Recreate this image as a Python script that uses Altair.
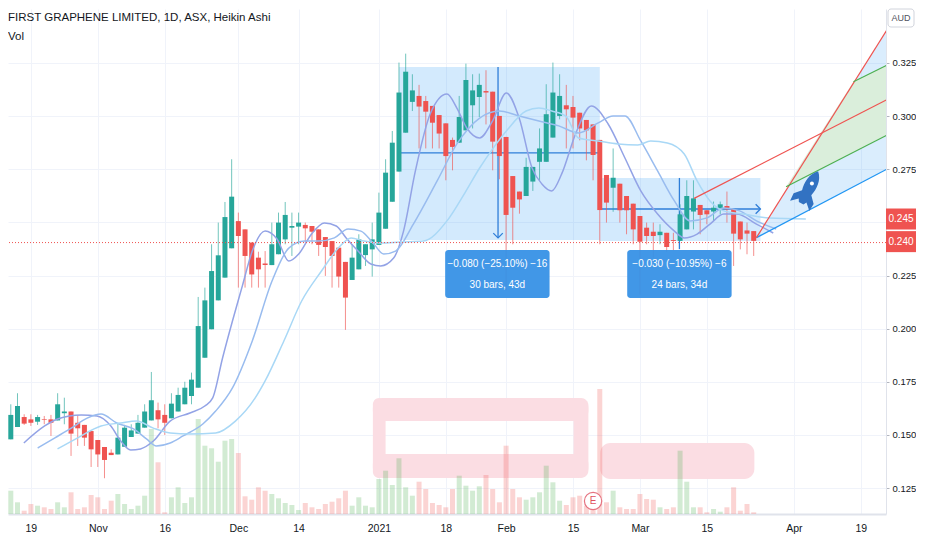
import altair as alt
import pandas as pd

FONT = "Liberation Sans Narrow, Liberation Sans, Arial, sans-serif"
W, H = 878, 505
X0, X1 = 1.329, 131.02
Y0, Y1 = 0.11277, 0.35041
VOL_K = 0.004706
GREEN = "#26a69a"
RED = "#ef5350"

title_text = "FIRST GRAPHENE LIMITED, 1D, ASX, Heikin Ashi"
sub_text = "Vol"

# Heikin Ashi candles (bar index 0 = 13 Oct 2020)
opens = [.1463, .1479, .1537, .1584, .1573, .1562, .1573, .1573, .1568, .1602,
         .1610, .1557, .1547, .1518, .1476, .1443, .1416, .1408, .1444, .1490,
         .1506, .1534, .1568, .1616, .1594, .1578, .1610, .1644, .1683, .1722,
         .1863, .1997, .2133, .2240, .2378, .2506, .2467, .2405, .2334, .2306,
         .2299, .2350, .2420, .2475, .2480, .2488, .2483, .2467, .2431, .2412,
         .2381, .2314, .2229, .2279, .2346, .2373, .2394, .2470, .2597, .2739,
         .2922, .3067, .3095, .3071, .3048, .3005, .2966, .2888, .2875, .2933,
         .3051, .3090, .3118, .3115, .3001, .2902, .2718, .2645, .2624, .2692,
         .2785, .2785, .2899, .3001, .3051, .3043, .3016, .2982, .2961, .2888,
         .2723, .2663, .2682, .2624, .2588, .2530, .2475, .2456, .2440, .2451,
         .2417, .2413, .2467, .2551, .2582, .2557, .2551, .2562, .2577, .2562,
         .2504, .2462, .2459]
highs = [.1510, .1644, .1696, .1597, .1597, .1594, .1589, .1594, .1696, .1675,
         .1610, .1594, .1547, .1518, .1476, .1443, .1432, .1553, .1547, .1550,
         .1594, .1644, .1796, .1652, .1644, .1696, .1722, .1750, .1793, .2149,
         .2193, .2397, .2499, .2596, .2797, .2546, .2467, .2405, .2362, .2365,
         .2499, .2546, .2596, .2546, .2546, .2499, .2483, .2467, .2431, .2412,
         .2381, .2314, .2397, .2444, .2397, .2499, .2640, .2797, .2930, .3252,
         .3294, .3197, .3147, .3095, .3048, .3005, .2966, .2899, .3095, .3247,
         .3197, .3200, .3216, .3115, .3001, .2902, .2718, .2645, .2804, .2761,
         .2942, .3150, .3252, .3197, .3147, .3095, .3016, .2982, .2961, .2888,
         .2723, .2848, .2682, .2624, .2588, .2530, .2499, .2499, .2491, .2451,
         .2451, .2585, .2698, .2698, .2582, .2557, .2598, .2598, .2645, .2562,
         .2504, .2499, .2459]
lows = [.1455, .1479, .1537, .1547, .1542, .1547, .1550, .1495, .1568, .1550,
        .1401, .1448, .1448, .1349, .1349, .1296, .1405, .1408, .1444, .1490,
        .1506, .1534, .1568, .1531, .1500, .1578, .1610, .1644, .1644, .1722,
        .1863, .1997, .2133, .2240, .2378, .2193, .2193, .2193, .2193, .2193,
        .2299, .2350, .2397, .2342, .2397, .2405, .2397, .2342, .2248, .2193,
        .2193, .1994, .2229, .2279, .2295, .2245, .2394, .2470, .2597, .2739,
        .2922, .3024, .2848, .2848, .2848, .2848, .2698, .2745, .2875, .2933,
        .2942, .2996, .2961, .2745, .2703, .2180, .2397, .2541, .2624, .2648,
        .2695, .2785, .2899, .2985, .2848, .2848, .2886, .2792, .2698, .2397,
        .2499, .2550, .2499, .2444, .2397, .2160, .2397, .2334, .2397, .2362,
        .2369, .2413, .2467, .2467, .2444, .2491, .2507, .2538, .2499, .2295,
        .2373, .2350, .2342]
closes = [.1503, .1594, .1636, .1553, .1557, .1584, .1570, .1557, .1644, .1610,
          .1506, .1531, .1487, .1432, .1408, .1382, .1405, .1487, .1534, .1521,
          .1557, .1610, .1663, .1573, .1557, .1647, .1688, .1722, .1760, .2012,
          .2133, .2271, .2345, .2525, .2621, .2436, .2342, .2255, .2279, .2299,
          .2397, .2499, .2535, .2483, .2499, .2472, .2456, .2394, .2384, .2342,
          .2245, .2146, .2334, .2420, .2397, .2420, .2546, .2734, .2875, .3111,
          .3209, .3121, .3045, .3021, .2969, .2918, .2812, .2855, .2996, .3170,
          .3121, .3147, .3111, .2880, .2812, .2535, .2569, .2608, .2761, .2761,
          .2848, .3009, .3111, .3095, .3032, .2993, .2942, .2933, .2817, .2558,
          .2593, .2710, .2557, .2557, .2467, .2409, .2436, .2436, .2456, .2384,
          .2413, .2538, .2624, .2613, .2535, .2538, .2569, .2585, .2562, .2447,
          .2420, .2447, .2413]
volumes = [1.67, 2.33, 1.17, 0.33, 1.0, 0.83, 0.67, 0.5, 1.17, 0.67,
           2.17, 0.5, 0.67, 1.9, 1.67, 0.5, 1.33, 2.0, 1.0, 0.5,
           0.83, 1.83, 8.5, 5.17, 0.17, 1.67, 2.67, 1.1, 1.67, 9.5,
           6.83, 6.57, 5.23, 7.33, 7.5, 6.1, 1.77, 1.43, 2.67, 2.33,
           2.0, 1.57, 1.1, 0.9, 0.4, 1.1, 0.67, 0.5, 1.0, 1.23,
           1.57, 2.33, 0.83, 1.67, 0.83, 0.67, 3.5, 4.33, 2.9, 5.57,
           2.67, 1.83, 3.23, 2.5, 1.1, 0.9, 0.67, 2.5, 3.83, 2.83,
           2.33, 2.77, 3.9, 2.5, 1.17, 6.83, 2.5, 1.67, 1.43, 1.67,
           2.17, 4.83, 3.17, 1.33, 0.9, 1.67, 1.83, 0.83, 1.5, 12.5,
           1.17, 2.33, 0.67, 0.5, 0.5, 2.0, 1.5, 1.43, 0.67, 0.5,
           0.67, 6.33, 3.23, 0.67, 0.67, 0.17, 0.5, 0.23, 0.67, 2.67,
           0.33, 1.0, 0.17]

tick_idx = [4, 14, 24, 35, 44, 56, 66, 75, 85, 95, 105, 118, 128]
tick_lbl = ["19", "Nov", "16", "Dec", "14", "2021", "18", "Feb", "15", "Mar", "15", "Apr", "19"]
price_ticks = [0.125, 0.15, 0.175, 0.2, 0.225, 0.25, 0.275, 0.3, 0.325]

ma_fast_i = [2.95, 6.06, 7.98, 11.52, 13.88, 15.95, 17.43, 18.91, 20.38, 22.3, 24.8, 27.77, 29.99, 31.17,
             32.64, 34.12, 35.6, 37.08, 39.0, 40.77, 42.54, 44.02, 45.94, 47.86, 49.63, 51.11, 52.88, 54.8,
             56.28, 58.2, 59.68, 61.45, 63.66, 66.17, 67.65, 69.13, 71.05, 72.97, 75.04, 76.96, 78.88, 80.35,
             81.83, 83.31, 85.38, 87.74, 90.25, 92.76, 95.13, 97.64, 100.15, 101.62, 103.55, 105.47, 107.53,
             109.45, 112.41, 114.92]
ma_fast_p = [.1462, .1542, .1575, .1594, .1589, .1542, .1471, .1429, .1434, .1471, .1565, .1603, .1636, .1674,
             .1862, .2036, .2201, .2365, .2459, .2422, .2318, .2351, .2445, .2497, .2483, .2427, .2365, .2304,
             .2295, .2332, .2459, .2742, .3010, .3104, .3038, .2944, .2897, .2977, .3109, .2991, .2756, .2681,
             .2648, .2728, .2916, .3048, .2963, .2803, .2648, .2539, .2459, .2427, .2445, .2492, .2539,
             .2539, .2492, .2450]
ma_mid_i = [5.02, 7.53, 10.04, 12.41, 14.48, 16.84, 19.35, 21.27, 22.75, 24.82, 26.74, 29.69, 31.61, 34.12,
            37.08, 40.03, 42.54, 44.9, 46.97, 49.34, 51.4, 53.32, 55.24, 56.72, 58.49, 61.15, 64.7, 67.65,
            71.05, 74.0, 76.96, 79.91, 82.87, 85.82, 88.77, 90.99, 92.76, 95.13, 97.64, 100.15, 102.51,
            105.02, 107.53, 109.9, 112.41, 115.36]
ma_mid_p = [.1438, .1485, .1532, .1579, .1598, .1556, .1528, .1481, .1448, .1462, .1495, .1551, .1612, .1721,
            .1942, .2224, .2379, .2412, .2412, .2427, .2469, .2459, .2398, .2351, .2365, .2492, .2695, .2869,
            .2991, .3024, .3001, .2977, .2954, .2921, .2968, .3001, .3001, .2883, .2742, .2601, .2507,
            .2521, .2568, .2554, .2507, .2469]
ma_slow_i = [7.98, 10.93, 14.48, 17.43, 19.79, 22.3, 24.82, 27.77, 31.61, 34.56, 37.52, 39.0, 41.8, 44.46,
             47.42, 49.93, 51.85, 53.77, 56.28, 59.23, 62.63, 66.17, 68.83, 71.05, 72.97, 75.04, 77.99, 79.91,
             81.83, 83.9, 85.82, 88.77, 91.73, 94.68, 96.6, 99.1, 101.62, 103.55, 105.47, 107.53, 110.49,
             114.33, 119.79]
ma_slow_p = [.1434, .1485, .1542, .1556, .1565, .1532, .1509, .1504, .1509, .1565, .1674, .1754, .1942, .2130,
             .2271, .2379, .2427, .2412, .2403, .2408, .2412, .2507, .2638, .2756, .2845, .2930, .3024, .3038,
             .3024, .3001, .2897, .2883, .2869, .2864, .2883, .2874, .2822, .2695, .2601, .2554, .2539,
             .2521, .2516]

# date/price range drawings
range_x1 = [59.0, 89.0]
range_x2 = [89.0, 113.0]
range_y1 = [0.3231, 0.2709]
range_y2 = [0.2417, 0.2412]
hline_x1 = [59.0, 89.0]
hline_x2 = [89.0, 113.0]
hline_y = [0.2827, 0.2563]
vline_x = [73.8, 100.9]
vline_y1 = [0.3231, 0.2709]
vline_y2 = [0.2427, 0.2374]
box_x1 = [65.9, 93.1]
box_x2 = [81.5, 108.7]
box_y1 = [0.2370, 0.2370]
box_y2 = [0.2144, 0.2144]
box_cx = [73.7, 73.7, 100.9, 100.9]
box_ty = [0.2304, 0.2205, 0.2304, 0.2205]
box_txt = ["\u22120.080 (\u221225.10%) \u221216", "30 bars, 43d",
           "\u22120.030 (\u221210.95%) \u22126", "24 bars, 34d"]

# pitchfork
fork_blue_x = [112.4, 132.6]
fork_blue_y = [0.2428, 0.2762]
fork_red_x1 = [112.4, 103.1]
fork_red_x2 = [132.6, 132.6]
fork_red_y1 = [0.2428, 0.2613]
fork_red_y2 = [0.3441, 0.3089]
fork_green_x1 = [126.9, 116.84]
fork_green_x2 = [132.6, 132.6]
fork_green_y1 = [0.3162, 0.2668]
fork_green_y2 = [0.3251, 0.2922]
fill_blue_x = [112.4, 132.6]
fill_blue_lo = [0.2428, 0.2762]
fill_blue_hi = [0.2428, 0.3441]
fill_green_x = [116.84, 126.9, 132.6]
fill_green_lo = [0.2668, 0.2830, 0.2922]
fill_green_hi = [0.2668, 0.3162, 0.3251]

# hand-drawn highlight
pink_x1 = [55.1, 55.1, 55.1, 85.08, 89.07]
pink_x2 = [87.3, 87.3, 57.0, 87.3, 112.1]
pink_y1 = [0.1674, 0.1410, 0.1297, 0.1297, 0.1292]
pink_y2 = [0.1565, 0.1297, 0.1674, 0.1674, 0.1462]

rocket_i, rocket_p = [120.1], [0.2650]
earn_i, earn_p = [88.0], [0.1189]
last_price = [0.2405]
tag_vals = [0.245, 0.240]

ROCKET = ("M0,-1 C0.32,-0.7 0.33,-0.25 0.24,0.12 L0.52,0.42 L0.5,0.8 L0.2,0.52 L0.12,0.66 "
          "L-0.12,0.66 L-0.2,0.52 L-0.5,0.8 L-0.52,0.42 L-0.24,0.12 C-0.33,-0.25 -0.32,-0.7 0,-1 Z")
TAG = "M-1,-0.7 L1,-0.7 L1,0.7 L-1,0.7 Z"

df = pd.DataFrame({"i": list(range(len(opens))), "o": opens, "h": highs, "l": lows,
                   "c": closes, "v": volumes})
df["up"] = df["c"] >= df["o"]

xs = alt.Scale(domain=[X0, X1], nice=False, zero=False)
ys = alt.Scale(domain=[Y0, Y1], nice=False, zero=False)

x_expr = " : ".join(f"datum.value == {i} ? '{l}'" for i, l in zip(tick_idx, tick_lbl)) + " : ''"
x_axis = alt.Axis(values=tick_idx, labelExpr=x_expr, grid=True, gridColor="#f0f3fa", ticks=False,
                  domainColor="#e0e3eb", domainWidth=2, labelFont=FONT, labelFontSize=10.5,
                  labelColor="#131722", labelPadding=9, labelFlush=False, labelOverlap=False, title=None)
y_axis = alt.Axis(orient="right", values=price_ticks,
                  labelExpr="datum.value == 0.25 ? '' : format(datum.value, '.3f')",
                  grid=True, gridColor="#f0f3fa", tickSize=3, tickColor="#b2b5be",
                  domainColor="#e0e3eb", labelFont=FONT, labelFontSize=9.5, labelColor="#131722",
                  labelPadding=3, title=None)


def X(f):
    return alt.X(f, scale=xs, axis=x_axis)


def Y(f):
    return alt.Y(f, scale=ys, axis=y_axis)


up_color = alt.condition("datum.up", alt.value(GREEN), alt.value(RED))

pink = alt.Chart(pd.DataFrame({"x1": pink_x1, "x2": pink_x2, "y1": pink_y1, "y2": pink_y2})).mark_rect(
    color="#fbdde3", cornerRadius=10, clip=True).encode(x=X("x1:Q"), x2="x2:Q", y=Y("y1:Q"), y2="y2:Q")

vol = alt.Chart(df).transform_calculate(
    vt=f"{Y0} + datum.v * {VOL_K}", vb=f"{Y0}"
).mark_bar(width=5, opacity=0.25, clip=True).encode(
    x=X("i:Q"), y=Y("vt:Q"), y2="vb:Q",
    color=alt.condition("datum.up", alt.value("#4caf50"), alt.value("#ef5350")))

fill_blue = alt.Chart(pd.DataFrame({"x": fill_blue_x, "lo": fill_blue_lo, "hi": fill_blue_hi})).mark_area(
    color="#2196f3", opacity=0.17, clip=True).encode(x=X("x:Q"), y=Y("lo:Q"), y2="hi:Q")
fill_green = alt.Chart(pd.DataFrame({"x": fill_green_x, "lo": fill_green_lo, "hi": fill_green_hi})).mark_area(
    color="#daeedb", opacity=1, clip=True).encode(x=X("x:Q"), y=Y("lo:Q"), y2="hi:Q")

ranges = alt.Chart(pd.DataFrame({"x1": range_x1, "x2": range_x2, "y1": range_y1, "y2": range_y2})).mark_rect(
    color="#2196f3", opacity=0.2, clip=True).encode(x=X("x1:Q"), x2="x2:Q", y=Y("y1:Q"), y2="y2:Q")
hlines = alt.Chart(pd.DataFrame({"x1": hline_x1, "x2": hline_x2, "y": hline_y})).mark_rule(
    color="#2f7ed8", strokeWidth=1.3, clip=True).encode(x=X("x1:Q"), x2="x2:Q", y=Y("y:Q"))
vlines = alt.Chart(pd.DataFrame({"x": vline_x, "y1": vline_y1, "y2": vline_y2})).mark_rule(
    color="#2f7ed8", strokeWidth=1.3, clip=True).encode(x=X("x:Q"), y=Y("y1:Q"), y2="y2:Q")
arrow_down = alt.Chart(pd.DataFrame({"x": vline_x[:1], "y": vline_y2[:1]})).mark_point(
    shape="M-1,-1 L0,0 L1,-1", size=90, filled=False, color="#2f7ed8", strokeWidth=1.3, opacity=1, clip=True
).encode(x=X("x:Q"), y=Y("y:Q"))
arrow_right = alt.Chart(pd.DataFrame({"x": hline_x2[1:], "y": hline_y[1:]})).mark_point(
    shape="M-1,-1 L0,0 L-1,1", size=90, filled=False, color="#2f7ed8", strokeWidth=1.3, opacity=1, clip=True
).encode(x=X("x:Q"), y=Y("y:Q"))

wicks = alt.Chart(df).mark_rule(strokeWidth=1, opacity=0.65, clip=True).encode(
    x=X("i:Q"), y=Y("l:Q"), y2="h:Q", color=up_color)
bodies = alt.Chart(df).mark_bar(width=5, clip=True).encode(
    x=X("i:Q"), y=Y("o:Q"), y2="c:Q", color=up_color)


def ma_line(ix, px, col):
    return alt.Chart(pd.DataFrame({"x": ix, "y": px})).mark_line(
        color=col, strokeWidth=1.5, interpolate="monotone", clip=True).encode(x=X("x:Q"), y=Y("y:Q"))


ma1 = ma_line(ma_fast_i, ma_fast_p, "#93a3e6")
ma2 = ma_line(ma_mid_i, ma_mid_p, "#99bcef")
ma3 = ma_line(ma_slow_i, ma_slow_p, "#a9d8f6")

fork_blue = alt.Chart(pd.DataFrame({"x1": fork_blue_x[:1], "x2": fork_blue_x[1:],
                                    "y1": fork_blue_y[:1], "y2": fork_blue_y[1:]})).mark_rule(
    color="#2196f3", strokeWidth=1.3, clip=True).encode(x=X("x1:Q"), x2="x2:Q", y=Y("y1:Q"), y2="y2:Q")
fork_red = alt.Chart(pd.DataFrame({"x1": fork_red_x1, "x2": fork_red_x2,
                                   "y1": fork_red_y1, "y2": fork_red_y2})).mark_rule(
    color="#ef5350", strokeWidth=1.2, clip=True).encode(x=X("x1:Q"), x2="x2:Q", y=Y("y1:Q"), y2="y2:Q")
fork_green = alt.Chart(pd.DataFrame({"x1": fork_green_x1, "x2": fork_green_x2,
                                     "y1": fork_green_y1, "y2": fork_green_y2})).mark_rule(
    color="#4caf50", strokeWidth=1.2, clip=True).encode(x=X("x1:Q"), x2="x2:Q", y=Y("y1:Q"), y2="y2:Q")

price_line = alt.Chart(pd.DataFrame({"y": last_price})).mark_rule(
    color="#ef5350", strokeDash=[1, 2], strokeWidth=1, clip=True).encode(y=Y("y:Q"))

boxes = alt.Chart(pd.DataFrame({"x1": box_x1, "x2": box_x2, "y1": box_y1, "y2": box_y2})).mark_rect(
    color="#3590e6", cornerRadius=3, opacity=0.94, clip=True).encode(
    x=X("x1:Q"), x2="x2:Q", y=Y("y1:Q"), y2="y2:Q")
box_text = alt.Chart(pd.DataFrame({"x": box_cx, "y": box_ty, "t": box_txt})).mark_text(
    color="white", font=FONT, fontSize=10, align="center", baseline="middle").encode(
    x=X("x:Q"), y=Y("y:Q"), text="t:N")

rocket = alt.Chart(pd.DataFrame({"x": rocket_i, "y": rocket_p})).mark_point(
    shape=ROCKET, size=1900, filled=True, color="#3272c2", angle=28, opacity=1, clip=True).encode(
    x=X("x:Q"), y=Y("y:Q"))
window = alt.Chart(pd.DataFrame({"x": rocket_i, "y": rocket_p})).mark_point(
    shape="circle", size=16, filled=True, color="white", opacity=1, xOffset=4, yOffset=-7, clip=True).encode(
    x=X("x:Q"), y=Y("y:Q"))

earn = alt.Chart(pd.DataFrame({"x": earn_i, "y": earn_p})).mark_point(
    shape="circle", size=300, filled=True, fill="white", stroke="#e57380", strokeWidth=1.2, opacity=1,
    clip=True).encode(x=X("x:Q"), y=Y("y:Q"))
earn_t = alt.Chart(pd.DataFrame({"x": earn_i, "y": earn_p, "t": ["E"]})).mark_text(
    font=FONT, fontSize=10, color="#e0505e", align="center", baseline="middle").encode(
    x=X("x:Q"), y=Y("y:Q"), text="t:N")

title = alt.Chart(pd.DataFrame({"t": [title_text]})).mark_text(
    font=FONT, fontSize=11.5, color="#131722", align="left", baseline="middle").encode(
    x=alt.value(0), y=alt.value(9), text="t:N")
subtitle = alt.Chart(pd.DataFrame({"t": [sub_text]})).mark_text(
    font=FONT, fontSize=11.5, color="#131722", align="left", baseline="middle").encode(
    x=alt.value(0), y=alt.value(28), text="t:N")

tag_df = pd.DataFrame({"p": tag_vals, "t": [f"{v:.3f}" for v in tag_vals]})
tag1 = alt.Chart(tag_df.iloc[:1]).mark_point(
    shape=TAG, size=900, filled=True, color="#ef5350", opacity=1, yOffset=-14).encode(
    x=alt.value(W + 15), y=Y("p:Q"))
tag2 = alt.Chart(tag_df.iloc[1:]).mark_point(
    shape=TAG, size=900, filled=True, color="#ef5350", opacity=1, yOffset=-2).encode(
    x=alt.value(W + 15), y=Y("p:Q"))
tag1_t = alt.Chart(tag_df.iloc[:1]).mark_text(
    font=FONT, fontSize=10, color="white", align="center", baseline="middle", yOffset=-14).encode(
    x=alt.value(W + 15), y=Y("p:Q"), text="t:N")
tag2_t = alt.Chart(tag_df.iloc[1:]).mark_text(
    font=FONT, fontSize=10, color="white", align="center", baseline="middle", yOffset=-2).encode(
    x=alt.value(W + 15), y=Y("p:Q"), text="t:N")

aud_box = alt.Chart(pd.DataFrame({"t": ["AUD"]})).mark_rect(
    fill="white", stroke="#d1d4dc", strokeWidth=1, cornerRadius=3).encode(
    x=alt.value(W + 2), x2=alt.value(W + 28), y=alt.value(0), y2=alt.value(18))
aud_t = alt.Chart(pd.DataFrame({"t": ["AUD"]})).mark_text(
    font=FONT, fontSize=9, color="#50535e", align="center", baseline="middle").encode(
    x=alt.value(W + 15), y=alt.value(9), text="t:N")

chart = alt.layer(
    pink, vol, fill_blue, fill_green, ranges, hlines, vlines, arrow_down, arrow_right,
    wicks, bodies, ma1, ma2, ma3, fork_blue, fork_red, fork_green, price_line,
    boxes, box_text, rocket, window, earn, earn_t, title, subtitle,
    tag1, tag2, tag1_t, tag2_t, aud_box, aud_t
).properties(width=W, height=H, padding=0, background="white").configure_view(strokeWidth=0)

chart.save("out.html", embed_options={"renderer": "svg", "actions": False})
